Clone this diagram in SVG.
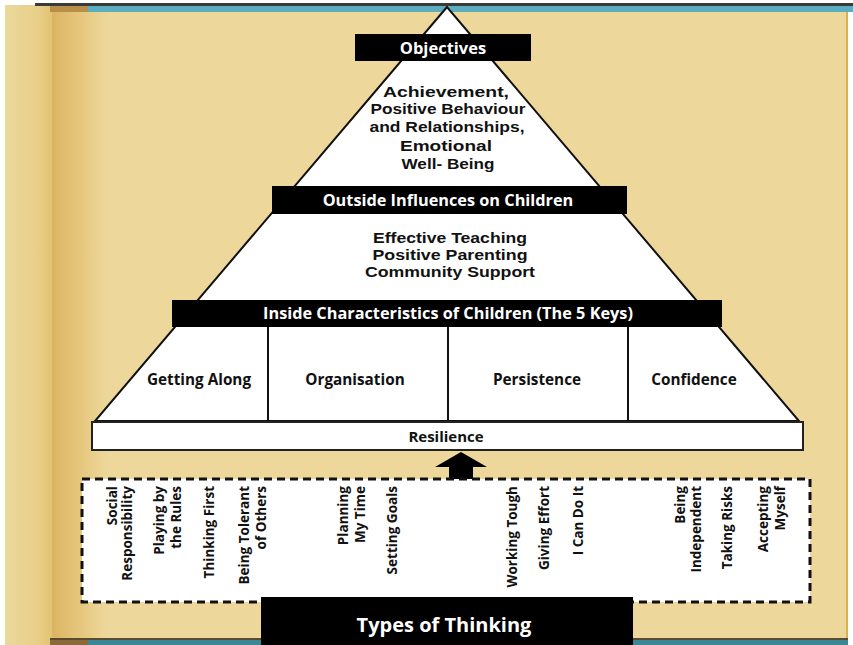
<svg xmlns="http://www.w3.org/2000/svg" width="853" height="645" viewBox="0 0 853 645">
<defs>
<linearGradient id="roll" x1="0" y1="0" x2="1" y2="0">
<stop offset="0" stop-color="#EBD89C"/>
<stop offset="0.7" stop-color="#E8CF88"/>
<stop offset="1" stop-color="#E2C274"/>
</linearGradient>
<linearGradient id="shade" x1="0" y1="0" x2="1" y2="0">
<stop offset="0" stop-color="#D9B05C" stop-opacity="0.9"/>
<stop offset="0.5" stop-color="#E2BF6E" stop-opacity="0.6"/>
<stop offset="1" stop-color="#EDD89E" stop-opacity="0"/>
</linearGradient>
</defs>
<style>
.t{font-family:"Open Sans","DejaVu Sans",sans-serif;font-weight:bold;}
.m{font-family:"Liberation Sans",Arial,sans-serif;font-weight:bold;font-size:15.2px;fill:#111;text-anchor:middle;}
.w{fill:#fff;}
.k{fill:#111;}
.bar{fill:#000;}
.box{fill:#fff;stroke:#111;stroke-width:2;}
.v{font-family:"Open Sans","DejaVu Sans",sans-serif;font-weight:bold;font-size:13.5px;fill:#111;text-anchor:end;}
</style>
<g id="background">
<rect x="0" y="0" width="853" height="645" fill="#fff"/>
<rect x="5" y="5" width="843" height="635" fill="#EDD79B"/>
<rect x="5" y="5" width="47" height="640" fill="url(#roll)"/>
<rect x="52" y="12" width="65" height="626" fill="url(#shade)"/>
<rect x="846" y="12" width="2" height="626" fill="#D8B24F"/>
<rect x="35" y="3" width="818" height="3" fill="#3a3a3a"/>
<rect x="88" y="6" width="765" height="6" fill="#5BAEC0"/>
<rect x="50" y="6" width="38" height="6" fill="#B88F48"/>
<rect x="50" y="638" width="798" height="2" fill="#5a4a30"/>
<rect x="88" y="640" width="760" height="5" fill="#3C8796"/>
<rect x="50" y="640" width="38" height="5" fill="#8a6a38"/>
</g>
<g id="pyramid">
<polygon class="box" points="447,7 95,421 799,421"/>
<line x1="268" y1="327" x2="268" y2="421" stroke="#111" stroke-width="2"/>
<line x1="448" y1="327" x2="448" y2="421" stroke="#111" stroke-width="2"/>
<line x1="628" y1="327" x2="628" y2="421" stroke="#111" stroke-width="2"/>
</g>
<g id="objectives">
<rect class="bar" x="355" y="34" width="176" height="27"/>
<text class="t w" x="443" y="54" font-size="16.5" text-anchor="middle">Objectives</text>
<text class="m" x="446" y="97" textLength="126" lengthAdjust="spacingAndGlyphs">Achievement,</text>
<text class="m" x="448" y="114" textLength="155" lengthAdjust="spacingAndGlyphs">Positive Behaviour</text>
<text class="m" x="447" y="132" textLength="155" lengthAdjust="spacingAndGlyphs">and Relationships,</text>
<text class="m" x="446" y="151" textLength="92" lengthAdjust="spacingAndGlyphs">Emotional</text>
<text class="m" x="448" y="169" textLength="93" lengthAdjust="spacingAndGlyphs">Well- Being</text>
</g>
<g id="outside">
<rect class="bar" x="272" y="186" width="355" height="28"/>
<text class="t w" x="448" y="206" font-size="16.3" text-anchor="middle">Outside Influences on Children</text>
<text class="m" x="450" y="243" textLength="154" lengthAdjust="spacingAndGlyphs">Effective Teaching</text>
<text class="m" x="450" y="260" textLength="155" lengthAdjust="spacingAndGlyphs">Positive Parenting</text>
<text class="m" x="450" y="277" textLength="170" lengthAdjust="spacingAndGlyphs">Community Support</text>
</g>
<g id="inside">
<rect class="bar" x="172" y="300" width="550" height="27"/>
<text class="t w" x="448" y="319" font-size="16.3" text-anchor="middle">Inside Characteristics of Children (The 5 Keys)</text>
</g>
<g id="getting-along"><text class="t k" x="199" y="385" font-size="15.3" text-anchor="middle">Getting Along</text></g>
<g id="organisation"><text class="t k" x="355" y="385" font-size="15.3" text-anchor="middle">Organisation</text></g>
<g id="persistence"><text class="t k" x="537" y="385" font-size="15.3" text-anchor="middle">Persistence</text></g>
<g id="confidence"><text class="t k" x="694" y="385" font-size="15.3" text-anchor="middle">Confidence</text></g>
<g id="resilience">
<rect x="92" y="422" width="711" height="28" fill="#fff" stroke="#222" stroke-width="2"/>
<text class="t k" x="446" y="442" font-size="15" text-anchor="middle">Resilience</text>
</g>
<g id="connectors">
<polygon points="461,452 487,467 473,467 473,480 449,480 449,467 435,467" fill="#000"/>
</g>
<g id="types-of-thinking">
<rect x="82" y="479" width="728" height="123" fill="#fff" stroke="#111" stroke-width="3" stroke-dasharray="8 5"/>
<text class="v" transform="translate(117,486) rotate(-90)">Social</text>
<text class="v" transform="translate(132,486) rotate(-90)">Responsibility</text>
<text class="v" transform="translate(164,486) rotate(-90)">Playing by</text>
<text class="v" transform="translate(181,486) rotate(-90)">the Rules</text>
<text class="v" transform="translate(214,486) rotate(-90)">Thinking First</text>
<text class="v" transform="translate(249,486) rotate(-90)">Being Tolerant</text>
<text class="v" transform="translate(266,486) rotate(-90)">of Others</text>
<text class="v" transform="translate(348,486) rotate(-90)">Planning</text>
<text class="v" transform="translate(365,486) rotate(-90)">My Time</text>
<text class="v" transform="translate(397,486) rotate(-90)">Setting Goals</text>
<text class="v" transform="translate(517,486) rotate(-90)">Working Tough</text>
<text class="v" transform="translate(549,486) rotate(-90)">Giving Effort</text>
<text class="v" transform="translate(583,486) rotate(-90)">I Can Do It</text>
<text class="v" transform="translate(685,486) rotate(-90)">Being</text>
<text class="v" transform="translate(701,486) rotate(-90)">Independent</text>
<text class="v" transform="translate(732,486) rotate(-90)">Taking Risks</text>
<text class="v" transform="translate(768,486) rotate(-90)">Accepting</text>
<text class="v" transform="translate(785,486) rotate(-90)">Myself</text>
<rect class="bar" x="261" y="597" width="372" height="48"/>
<text class="t w" x="444" y="632" font-size="20" text-anchor="middle">Types of Thinking</text>
</g>
</svg>
